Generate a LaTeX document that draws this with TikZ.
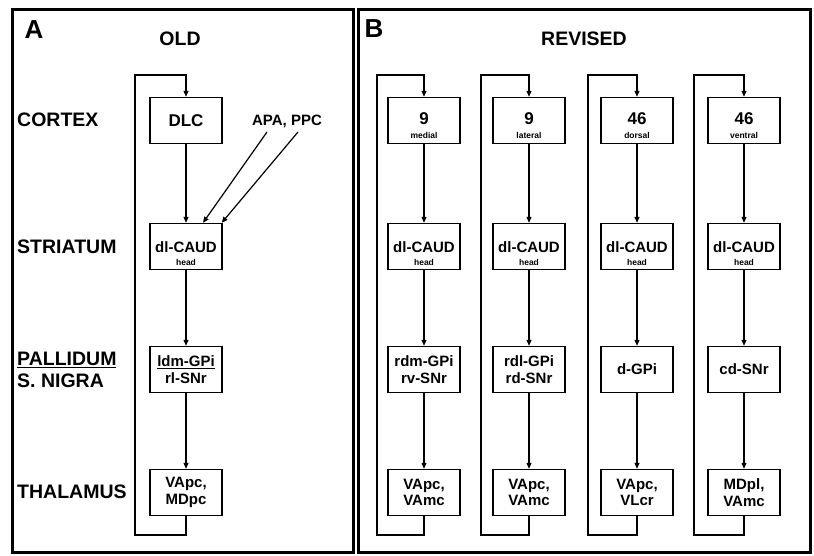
\documentclass[tikz,border=0pt]{standalone}
\usepackage{fontspec}
\setmainfont{Liberation Sans}
\usetikzlibrary{arrows.meta,calc}
\begin{document}
\begin{tikzpicture}[x=1pt,y=-1pt,
  box/.style={draw,line width=1.4pt,minimum width=72pt,minimum height=46pt,inner sep=0pt},
  arr/.style={line width=1.2pt,-{Triangle[length=6pt,width=5pt]}},
  lab/.style={anchor=west,inner sep=0pt,font=\bfseries\fontsize{19.5}{22}\selectfont},
  ttl/.style={inner sep=0pt,font=\bfseries\fontsize{19.5}{22}\selectfont},
  pnl/.style={inner sep=0pt,font=\bfseries\fontsize{26}{28}\selectfont},
  bt/.style={inner sep=0pt,align=center,font=\bfseries\fontsize{15}{16.5}\selectfont},
  bbox/.style={box,align=center,font=\bfseries\fontsize{15}{16.5}\selectfont},
  num/.style={inner sep=0pt,font=\bfseries\fontsize{17}{17}\selectfont},
  sm/.style={inner sep=0pt,font=\bfseries\fontsize{8.5}{8.5}\selectfont},
  frame/.style={line width=3pt}]
\useasboundingbox (0,0) rectangle (814,556);
\fill[white] (0,0) rectangle (814,556);
\draw[frame] (12,10) rectangle (353,552);
\draw[frame] (358,10) rectangle (810,552);

% panel A
\node[pnl] (pa) at (34,30) {A};
\node[ttl] (old) at (180,39) {OLD};
\node[lab] (lc) at (17,120) {CORTEX};
\node[lab] (ls) at (17,247) {STRIATUM};
\node[lab] (lp) at (17,360) {\underline{PALLIDUM}};
\node[lab] (ln) at (17,381) {S. NIGRA};
\node[lab] (lt) at (17,492) {THALAMUS};

\node[box] (c0) at (186,120.5) {};
\node[num] (c0t) at (186,121) {DLC};
\node[box] (s0) at (186,246.5) {};
\node[bt] (s0t) at (186,247) {dl-CAUD};
\node[sm] (s0h) at (186,262) {head};
\node[bbox] (p0) at (186,369.5) {\underline{ldm-GPi}\\rl-SNr};
\node[bbox] (t0) at (186,492.5) {VApc,\\MDpc};
\node[bt] (apa) at (287,121) {APA, PPC};
\coordinate (apa1) at (267,132);
\coordinate (apa2) at (298,132);
\coordinate (b0) at (186,535);
\coordinate (l0) at (135,75);
\draw[arr] (c0.south) -- (s0.north);
\draw[arr] (s0.south) -- (p0.north);
\draw[arr] (p0.south) -- (t0.north);
\draw[arr] (apa1) -- ([xshift=17pt]s0.north);
\draw[arr] (apa2) -- ([xshift=-1pt]s0.north east);
\draw[arr] (t0.south) -- (b0) -| (l0) -| (c0.north);

% panel B
\node[pnl] (pb) at (374,29) {B};
\node[ttl] (rev) at (584,39) {REVISED};
\foreach \i/\x/\lx/\n/\sub/\pal/\tha in {
  1/424/377/9/medial/{rdm-GPi\\rv-SNr}/{VApc,\\VAmc},
  2/529/481/9/lateral/{rdl-GPi\\rd-SNr}/{VApc,\\VAmc},
  3/637/588/46/dorsal/{d-GPi}/{VApc,\\VLcr},
  4/744/694/46/ventral/{cd-SNr}/{MDpl,\\VAmc}}{
  \node[box] (c\i) at (\x,120.5) {};
  \node[num] (c\i t) at (\x,118.5) {\n};
  \node[sm] (c\i s) at (\x,135.5) {\sub};
  \node[box] (s\i) at (\x,246.5) {};
  \node[bt] (s\i t) at (\x,247) {dl-CAUD};
  \node[sm] (s\i h) at (\x,262) {head};
  \node[bbox] (p\i) at (\x,369.5) {\pal};
  \node[bbox] (t\i) at (\x,492.5) {\tha};
  \coordinate (b\i) at (\x,535);
  \coordinate (l\i) at (\lx,75);
  \draw[arr] (c\i.south) -- (s\i.north);
  \draw[arr] (s\i.south) -- (p\i.north);
  \draw[arr] (p\i.south) -- (t\i.north);
  \draw[arr] (t\i.south) -- (b\i) -| (l\i) -| (c\i.north);
}
\end{tikzpicture}
\end{document}
